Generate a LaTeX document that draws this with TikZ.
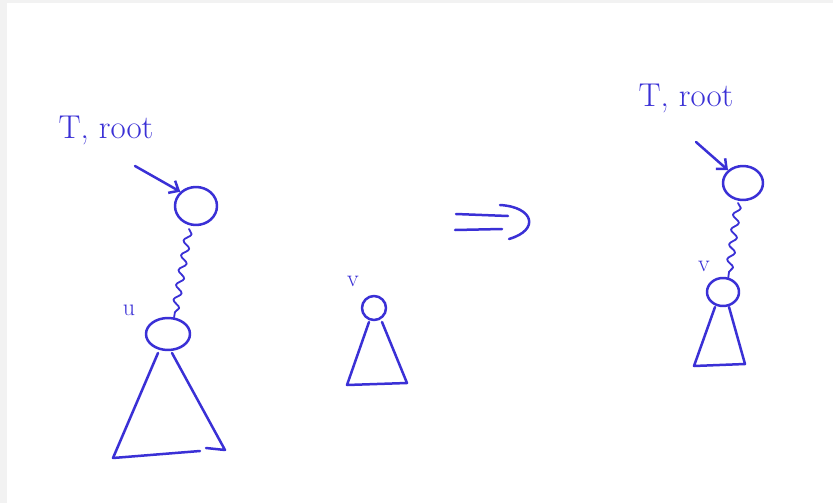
\documentclass[tikz,border=0pt]{standalone}
\usetikzlibrary{shapes.geometric,arrows.meta,decorations.pathmorphing}
\definecolor{ink}{RGB}{58,48,214}
\definecolor{frame}{RGB}{242,242,242}
\begin{document}
\begin{tikzpicture}[x=1pt,y=-1pt,
  pen/.style={draw=ink,line width=2.5pt,line cap=round,line join=round},
  knot/.style={pen,ellipse,inner sep=0pt},
  hand/.style={text=ink,inner sep=0pt,font=\fontsize{33}{33}\selectfont},
  lab/.style={text=ink,inner sep=0pt,font=\fontsize{24}{24}\selectfont},
  wave/.style={pen,line width=1.8pt,decorate,decoration={snake,segment length=15pt,amplitude=3.5pt}},
  ptr/.style={pen,-{Straight Barb[length=8pt,width=14pt,line width=2.5pt]}}]
\fill[frame] (0,0) rectangle (833,503);
\fill[white] (7,3) rectangle (833,503);
\useasboundingbox (0,0) rectangle (833,503);
% left tree
\node[hand] (troot1) at (106,130) {T, root};
\node[knot,minimum width=42pt,minimum height=38pt] (r1) at (196,206) {};
\coordinate (a1) at (135,166);
\draw[ptr] (a1) -- (r1.north west);
\node[knot,minimum width=44pt,minimum height=32pt] (u) at (168,334) {};
\node[lab] (ul) at (129,310) {u};
\coordinate (w1) at (189,229);
\draw[wave] (w1) -- (u.70);
\coordinate (ul1) at (158,353);
\coordinate (ur1) at (172,353);
\coordinate (bl1) at (113,458);
\coordinate (br1) at (225,450);
\draw[pen] (ul1) -- (bl1) -- (200,451);
\draw[pen] (ur1) -- (br1) -- (206,448);
% middle v
\node[lab] (vl) at (353,281) {v};
\node[knot,minimum width=24pt,minimum height=24pt] (v) at (374,308) {};
\coordinate (vl1) at (369,322);
\coordinate (vr1) at (382,322);
\coordinate (vbl) at (347,385);
\coordinate (vbr) at (407,383);
\draw[pen] (vl1) -- (vbl) -- (vbr) -- (vr1);
% implies arrow
\coordinate (i1) at (456,214);
\coordinate (i2) at (508,216);
\coordinate (i3) at (455,230);
\coordinate (i4) at (502,229);
\draw[pen] (i1) -- (i2);
\draw[pen] (i3) -- (i4);
\draw[pen] (500,205) .. controls (534,207) and (540,230) .. (509,239);
% right tree
\node[hand] (troot2) at (686,98) {T, root};
\node[knot,minimum width=40pt,minimum height=34pt] (r2) at (743,183) {};
\coordinate (a2) at (696,142);
\draw[ptr] (a2) -- (r2.north west);
\node[knot,minimum width=32pt,minimum height=28pt] (v2) at (723,292) {};
\node[lab] (vl2) at (704,266) {v};
\coordinate (w2) at (738,203);
\draw[wave] (w2) -- (v2.70);
\coordinate (vl3) at (715,307);
\coordinate (vr3) at (729,307);
\coordinate (vbl3) at (694,366);
\coordinate (vbr3) at (745,364);
\draw[pen] (vl3) -- (vbl3) -- (vbr3) -- (vr3);
\end{tikzpicture}
\end{document}
